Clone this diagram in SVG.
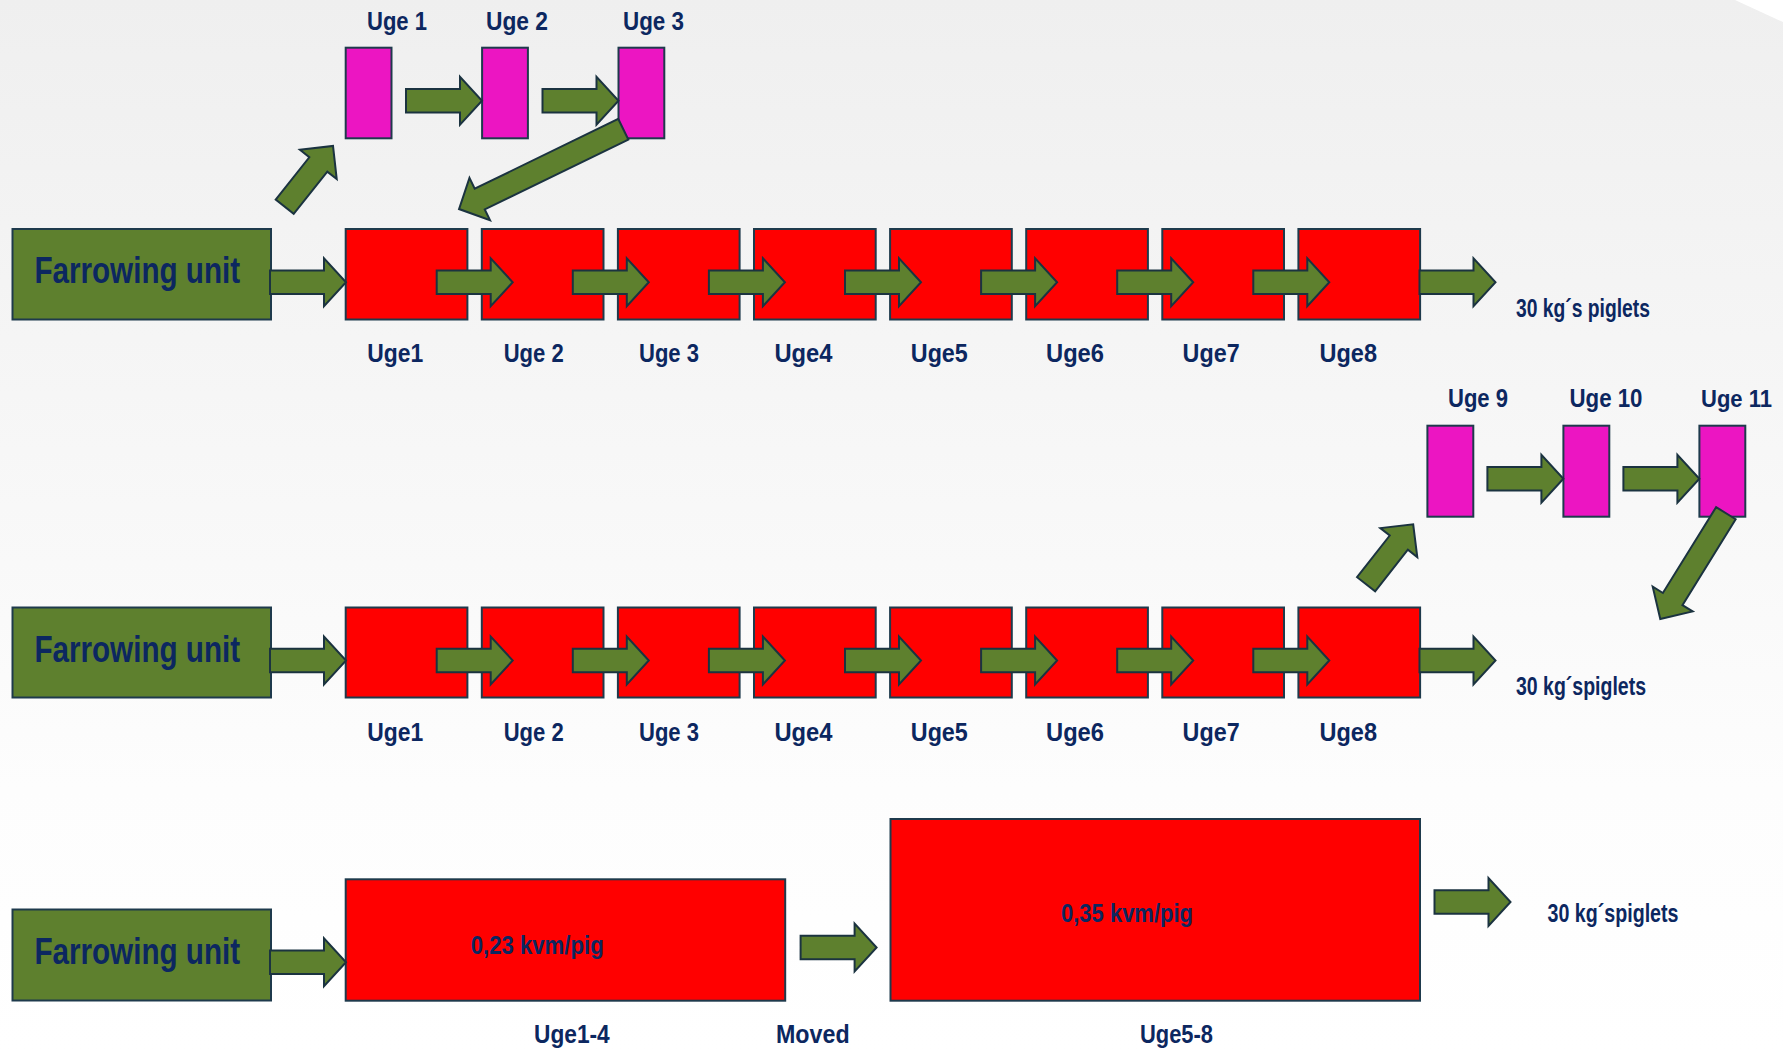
<svg xmlns="http://www.w3.org/2000/svg" xmlns:xlink="http://www.w3.org/1999/xlink" width="1783" height="1050" viewBox="0 0 1783 1050">
<defs>
<linearGradient id="bg" x1="0" y1="0" x2="0" y2="1">
<stop offset="0" stop-color="#EFEFEF"/>
<stop offset="0.75" stop-color="#FDFDFD"/>
<stop offset="1" stop-color="#FFFFFF"/>
</linearGradient>
<polygon id="harrow" points="0,-11.7 54,-11.7 54,-24 76,0 54,24 54,11.7 0,11.7"/>
<style>
.farrow{fill:#5E802E;stroke:#1E3A4C;stroke-width:2}
.red{fill:#FF0000;stroke:#1E3A4C;stroke-width:2}
.pink{fill:#EC15C2;stroke:#1E3A4C;stroke-width:2}
.arr{fill:#5E802E;stroke:#1B3340;stroke-width:2;stroke-linejoin:miter}
text{font-family:"Liberation Sans Narrow","Liberation Sans",Arial,sans-serif;font-weight:bold;fill:#0C2760}
.lbl{font-size:26px}
.fu{font-size:36px}
</style>
</defs>
<rect x="0" y="0" width="1783" height="1050" fill="url(#bg)"/>
<polygon points="1735,0 1783,0 1783,22" fill="#FFFFFF"/>

<!-- Row 1 -->
<g id="farrow1"><rect class="farrow" x="12.5" y="229" width="258.5" height="90.5"/><text class="fu" x="34.4" y="283.3" textLength="205.7" lengthAdjust="spacingAndGlyphs">Farrowing unit</text></g>
<g id="r1b1"><rect class="red" x="345.7" y="229" width="121.7" height="90.5"/><text class="lbl" x="367.3" y="362" textLength="56" lengthAdjust="spacingAndGlyphs">Uge1</text></g>
<g id="r1b2"><rect class="red" x="481.8" y="229" width="121.7" height="90.5"/><text class="lbl" x="503.7" y="362" textLength="60" lengthAdjust="spacingAndGlyphs">Uge 2</text></g>
<g id="r1b3"><rect class="red" x="617.9" y="229" width="121.7" height="90.5"/><text class="lbl" x="639" y="362" textLength="60" lengthAdjust="spacingAndGlyphs">Uge 3</text></g>
<g id="r1b4"><rect class="red" x="754" y="229" width="121.7" height="90.5"/><text class="lbl" x="774.4" y="362" textLength="58" lengthAdjust="spacingAndGlyphs">Uge4</text></g>
<g id="r1b5"><rect class="red" x="890.1" y="229" width="121.7" height="90.5"/><text class="lbl" x="910.8" y="362" textLength="57" lengthAdjust="spacingAndGlyphs">Uge5</text></g>
<g id="r1b6"><rect class="red" x="1026.2" y="229" width="121.7" height="90.5"/><text class="lbl" x="1046" y="362" textLength="58" lengthAdjust="spacingAndGlyphs">Uge6</text></g>
<g id="r1b7"><rect class="red" x="1162.3" y="229" width="121.7" height="90.5"/><text class="lbl" x="1182.6" y="362" textLength="57" lengthAdjust="spacingAndGlyphs">Uge7</text></g>
<g id="r1b8"><rect class="red" x="1298.4" y="229" width="121.7" height="90.5"/><text class="lbl" x="1319.5" y="362" textLength="57.5" lengthAdjust="spacingAndGlyphs">Uge8</text></g>
<g id="r1out"><text class="lbl" x="1516" y="316.7" textLength="134" lengthAdjust="spacingAndGlyphs">30 kg´s piglets</text></g>
<g id="r1p1"><rect class="pink" x="345.7" y="47.7" width="45.8" height="90.6"/><text class="lbl" x="367" y="30" textLength="60" lengthAdjust="spacingAndGlyphs">Uge 1</text></g>
<g id="r1p2"><rect class="pink" x="482.1" y="47.7" width="45.8" height="90.6"/><text class="lbl" x="486" y="30" textLength="62" lengthAdjust="spacingAndGlyphs">Uge 2</text></g>
<g id="r1p3"><rect class="pink" x="618.5" y="47.7" width="45.8" height="90.6"/><text class="lbl" x="623" y="30" textLength="61" lengthAdjust="spacingAndGlyphs">Uge 3</text></g>

<!-- Row 2 -->
<g id="farrow2"><rect class="farrow" x="12.5" y="607.5" width="258.5" height="90"/><text class="fu" x="34.4" y="661.8" textLength="205.7" lengthAdjust="spacingAndGlyphs">Farrowing unit</text></g>
<g id="r2b1"><rect class="red" x="345.7" y="607.5" width="121.7" height="90"/><text class="lbl" x="367.3" y="740.5" textLength="56" lengthAdjust="spacingAndGlyphs">Uge1</text></g>
<g id="r2b2"><rect class="red" x="481.8" y="607.5" width="121.7" height="90"/><text class="lbl" x="503.7" y="740.5" textLength="60" lengthAdjust="spacingAndGlyphs">Uge 2</text></g>
<g id="r2b3"><rect class="red" x="617.9" y="607.5" width="121.7" height="90"/><text class="lbl" x="639" y="740.5" textLength="60" lengthAdjust="spacingAndGlyphs">Uge 3</text></g>
<g id="r2b4"><rect class="red" x="754" y="607.5" width="121.7" height="90"/><text class="lbl" x="774.4" y="740.5" textLength="58" lengthAdjust="spacingAndGlyphs">Uge4</text></g>
<g id="r2b5"><rect class="red" x="890.1" y="607.5" width="121.7" height="90"/><text class="lbl" x="910.8" y="740.5" textLength="57" lengthAdjust="spacingAndGlyphs">Uge5</text></g>
<g id="r2b6"><rect class="red" x="1026.2" y="607.5" width="121.7" height="90"/><text class="lbl" x="1046" y="740.5" textLength="58" lengthAdjust="spacingAndGlyphs">Uge6</text></g>
<g id="r2b7"><rect class="red" x="1162.3" y="607.5" width="121.7" height="90"/><text class="lbl" x="1182.6" y="740.5" textLength="57" lengthAdjust="spacingAndGlyphs">Uge7</text></g>
<g id="r2b8"><rect class="red" x="1298.4" y="607.5" width="121.7" height="90"/><text class="lbl" x="1319.5" y="740.5" textLength="57.5" lengthAdjust="spacingAndGlyphs">Uge8</text></g>
<g id="r2out"><text class="lbl" x="1516" y="695" textLength="130" lengthAdjust="spacingAndGlyphs">30 kg´spiglets</text></g>
<g id="r2p1"><rect class="pink" x="1427.4" y="425.7" width="45.9" height="91"/><text class="lbl" x="1448" y="406.7" textLength="60" lengthAdjust="spacingAndGlyphs">Uge 9</text></g>
<g id="r2p2"><rect class="pink" x="1563.4" y="425.7" width="45.9" height="91"/><text class="lbl" x="1569.5" y="406.7" textLength="73" lengthAdjust="spacingAndGlyphs">Uge 10</text></g>
<g id="r2p3"><rect class="pink" x="1699.4" y="425.7" width="45.9" height="91"/><text class="lbl" x="1701" y="406.7" style="font-size:24px" textLength="71" lengthAdjust="spacingAndGlyphs">Uge 11</text></g>

<!-- Row 3 -->
<g id="farrow3"><rect class="farrow" x="12.5" y="909.5" width="258.5" height="91"/><text class="fu" x="34.4" y="964" textLength="205.7" lengthAdjust="spacingAndGlyphs">Farrowing unit</text></g>
<g id="r3b1"><rect class="red" x="345.7" y="879.3" width="439.5" height="121.4"/><text class="lbl" x="470.7" y="954" textLength="133" lengthAdjust="spacingAndGlyphs">0,23 kvm/pig</text><text class="lbl" x="534" y="1043" textLength="75.7" lengthAdjust="spacingAndGlyphs">Uge1-4</text></g>
<g id="r3moved"><text class="lbl" x="776" y="1043" textLength="73.6" lengthAdjust="spacingAndGlyphs">Moved</text></g>
<g id="r3b2"><rect class="red" x="890.5" y="819" width="529.5" height="181.7"/><text class="lbl" x="1061" y="921.5" textLength="132" lengthAdjust="spacingAndGlyphs">0,35 kvm/pig</text><text class="lbl" x="1140" y="1043" textLength="73" lengthAdjust="spacingAndGlyphs">Uge5-8</text></g>
<g id="r3out"><text class="lbl" x="1547.5" y="921.5" textLength="131" lengthAdjust="spacingAndGlyphs">30 kg´spiglets</text></g>

<!-- Connectors -->
<g id="connectors" class="arr">
<use xlink:href="#harrow" href="#harrow" x="270" y="282.3"/>
<use xlink:href="#harrow" href="#harrow" x="436.7" y="282.3"/>
<use xlink:href="#harrow" href="#harrow" x="572.8" y="282.3"/>
<use xlink:href="#harrow" href="#harrow" x="708.9" y="282.3"/>
<use xlink:href="#harrow" href="#harrow" x="845" y="282.3"/>
<use xlink:href="#harrow" href="#harrow" x="981.1" y="282.3"/>
<use xlink:href="#harrow" href="#harrow" x="1117.2" y="282.3"/>
<use xlink:href="#harrow" href="#harrow" x="1253.3" y="282.3"/>
<use xlink:href="#harrow" href="#harrow" x="1419.5" y="282.3"/>
<use xlink:href="#harrow" href="#harrow" x="406" y="100.7"/>
<use xlink:href="#harrow" href="#harrow" x="542.5" y="100.7"/>
<polygon transform="translate(284.7,206.7) rotate(-51.5)" points="0,-11.5 54,-11.5 54,-23.5 77.6,0 54,23.5 54,11.5 0,11.5"/>
<polygon transform="translate(623.3,129.3) rotate(154.1)" points="0,-11.5 159.6,-11.5 159.6,-23.5 182.6,0 159.6,23.5 159.6,11.5 0,11.5"/>

<use xlink:href="#harrow" href="#harrow" x="270" y="660.5"/>
<use xlink:href="#harrow" href="#harrow" x="436.7" y="660.5"/>
<use xlink:href="#harrow" href="#harrow" x="572.8" y="660.5"/>
<use xlink:href="#harrow" href="#harrow" x="708.9" y="660.5"/>
<use xlink:href="#harrow" href="#harrow" x="845" y="660.5"/>
<use xlink:href="#harrow" href="#harrow" x="981.1" y="660.5"/>
<use xlink:href="#harrow" href="#harrow" x="1117.2" y="660.5"/>
<use xlink:href="#harrow" href="#harrow" x="1253.3" y="660.5"/>
<use xlink:href="#harrow" href="#harrow" x="1419.5" y="660.5"/>
<use xlink:href="#harrow" href="#harrow" x="1487.4" y="478.7"/>
<use xlink:href="#harrow" href="#harrow" x="1623.4" y="478.7"/>
<polygon transform="translate(1366.1,584.3) rotate(-51.9)" points="0,-11.5 53,-11.5 53,-23.5 76.3,0 53,23.5 53,11.5 0,11.5"/>
<polygon transform="translate(1725.9,513.2) rotate(121.8)" points="0,-11.5 101,-11.5 101,-23.5 124.5,0 101,23.5 101,11.5 0,11.5"/>

<use xlink:href="#harrow" href="#harrow" x="270" y="962.3"/>
<use xlink:href="#harrow" href="#harrow" x="800.6" y="947.5"/>
<use xlink:href="#harrow" href="#harrow" x="1434.5" y="902"/>
</g>
</svg>
